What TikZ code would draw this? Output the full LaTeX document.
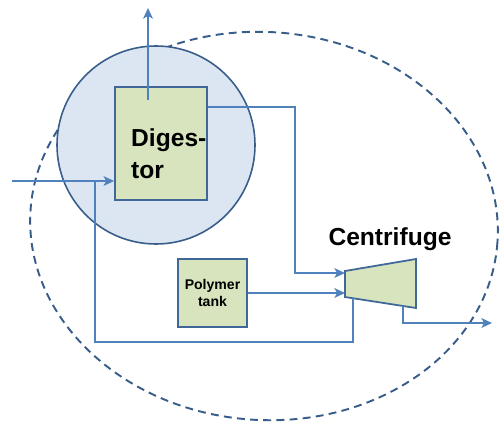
\documentclass[tikz,border=0pt]{standalone}
\usepackage{fontspec}
\setmainfont{Liberation Sans}
\usetikzlibrary{arrows.meta,calc,positioning}
\definecolor{flowblue}{RGB}{79,129,189}
\definecolor{darkblue}{RGB}{56,93,138}
\definecolor{tankgreen}{RGB}{215,228,189}
\definecolor{ringblue}{RGB}{220,230,242}

\begin{document}
\begin{tikzpicture}[x=0.02cm, y=-0.02cm, >={Stealth[length=6pt,width=5.5pt,inset=1.5pt]}]
    \tikzstyle{tank}=[draw=darkblue!70!flowblue, fill=tankgreen, line width=1pt, inner sep=0pt]
    \tikzstyle{flow}=[draw=flowblue, line width=1.2pt]
    \tikzstyle{title}=[font=\bfseries\fontsize{14}{18}\selectfont]

    \useasboundingbox (0,0) rectangle (500,423);

    % plant boundary
    \draw[darkblue, line width=1.1pt, dash pattern=on 4.5pt off 3pt, rotate around={-4:(264,226)}]
        (264,226) ellipse [x radius=234, y radius=194];

    % digester
    \draw[darkblue, fill=ringblue, line width=0.9pt] (156,145) circle [radius=99];
    \node[tank, minimum width=1.84cm, minimum height=2.26cm] (dig) at (161,143.5) {};
    \node[title, align=left, anchor=west] (diglabel) at (125,154) {Diges-\\tor};

    % polymer
    \node[tank, minimum width=1.38cm, minimum height=1.36cm, align=center,
          font=\bfseries\fontsize{8}{10}\selectfont] (poly) at (212.5,293) {Polymer\\tank};

    % centrifuge
    \coordinate (c1) at (345,271);
    \coordinate (c2) at (416,259);
    \coordinate (c3) at (416,308);
    \coordinate (c4) at (345,297);
    \draw[tank] (c1) -- (c2) -- (c3) -- (c4) -- cycle;
    \node[title, anchor=base] (cent) at (390,245) {Centrifuge};

    % streams
    \coordinate (feed) at (12,181);
    \coordinate (gasin) at (148,100);
    \coordinate (gas) at (148,8);
    \coordinate (sludge) at (353,298);
    \coordinate (cake) at (403,306);
    \coordinate (out) at (492,323);

    \draw[flow,->] (feed) -- (feed -| dig.west);
    \draw[flow,->] (gasin) -- (gas);
    \draw[flow,->] (dig.east |- 0,107) -- (295,107) -- (295,273) -- (c1 |- 0,273);
    \draw[flow,->] (poly.east) -- (poly.east -| c4);
    \draw[flow] (sludge) -- (353,342) -- (95,342) -- (95,181);
    \draw[flow,->] (cake) -- (cake |- out) -- (out);

\end{tikzpicture}
\end{document}
